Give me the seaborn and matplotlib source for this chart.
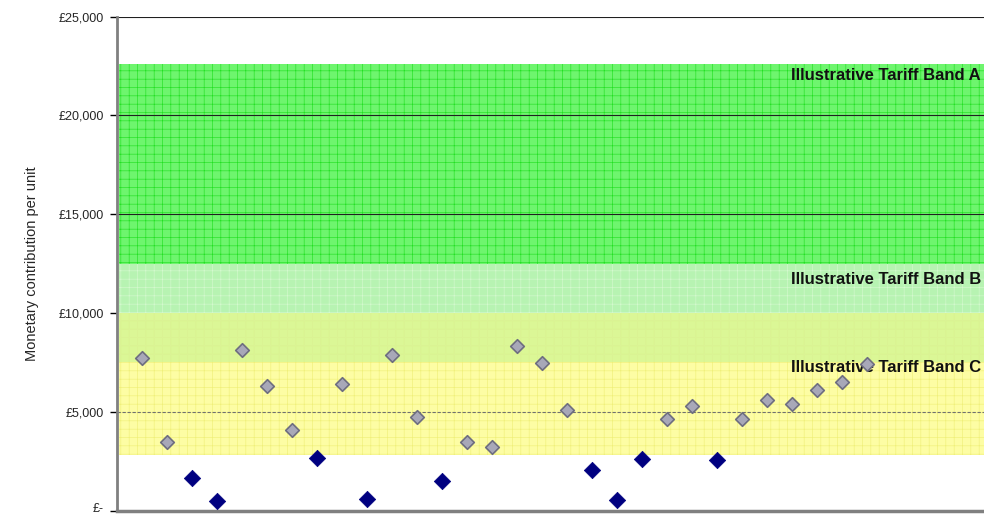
import matplotlib
matplotlib.use("Agg")
import matplotlib.pyplot as plt
import matplotlib.transforms as mtransforms
import seaborn as sns
import pandas as pd
from matplotlib.ticker import FuncFormatter

sns.set_style("white")
plt.rcParams["font.family"] = ["Liberation Sans", "DejaVu Sans"]
plt.rcParams["hatch.linewidth"] = 0.45

# Scheme contributions per unit, one point per site
site = list(range(1, 31))
contribution = [7700, 3490, 1650, 500, 8110, 6320, 4070, 2650, 6420, 570,
                7890, 4730, 1500, 3480, 3210, 8350, 7490, 5100, 2060, 530,
                2630, 4630, 5300, 2560, 4630, 5610, 5410, 6120, 6490, 7440]
group = ["Other", "Other", "Low", "Low", "Other", "Other", "Other", "Low", "Other", "Low",
         "Other", "Other", "Low", "Other", "Other", "Other", "Other", "Other", "Low", "Low",
         "Low", "Other", "Other", "Low", "Other", "Other", "Other", "Other", "Other", "Other"]

# Illustrative tariff bands (lower, upper) in £ per unit
band_names = ["Illustrative Tariff Band A", "Illustrative Tariff Band B", "Illustrative Tariff Band C"]
band_lower = [12500, 7500, 2800]
band_upper = [22600, 12500, 10000]
band_label_y = [22000, 11700, 7250]

y_ticks = [0, 5000, 10000, 15000, 20000, 25000]

df = pd.DataFrame({"site": site, "contribution": contribution, "group": group})

fig = plt.figure(figsize=(9.84, 5.15), dpi=100)
ax = fig.add_axes([0.1184, 0.0087, 0.8816, 0.9592])

# Band C (yellow)
ax.axhspan(band_lower[2], band_upper[2], xmin=0.003, xmax=1, facecolor="#fdfda4",
           edgecolor="#f0f07a", hatch="++", linewidth=0, zorder=0)
# Band B (light green); paler where it overlaps band C
overlap_top = min(band_upper[2], band_upper[1])
ax.axhspan(overlap_top, band_upper[1], xmin=0.003, xmax=1, facecolor="#8cec84",
           edgecolor="#e6fde0", hatch="++", linewidth=0, alpha=0.62, zorder=0.5)
ax.axhspan(band_lower[1], overlap_top, xmin=0.003, xmax=1, facecolor="#a6ee80",
           edgecolor="#e8fbc0", hatch="++", linewidth=0, alpha=0.38, zorder=0.5)
# Band A (green)
ax.axhspan(band_lower[0], band_upper[0], xmin=0.003, xmax=1, facecolor="#6ef56e",
           edgecolor="#24e024", hatch="++", linewidth=0, zorder=0.6)

# Horizontal gridlines
for v in [15000, 20000, 25000]:
    ax.axhline(v, color="#202020", lw=0.8, zorder=1)
ax.axhline(5000, color="#707070", lw=0.8, ls=(0, (3, 1.5)), zorder=1)

for name, yv in zip(band_names, band_label_y):
    ax.text(0.9965, yv, name, transform=ax.get_yaxis_transform(), ha="right", va="center",
            fontsize=12, fontweight="bold", color="#111111", zorder=3)

sns.scatterplot(data=df[df.group == "Other"], x="site", y="contribution", marker="D",
                s=48, color="#a8a8b8", edgecolor="#6e6e80", linewidth=1.2, ax=ax,
                zorder=4, legend=False)
sns.scatterplot(data=df[df.group == "Low"], x="site", y="contribution", marker="D",
                s=70, color="#000080", edgecolor="#000080", linewidth=0.5, ax=ax,
                zorder=4, legend=False)

ax.set_xlim(0, 34.68)
ax.set_ylim(0, 25000)
ax.set_yticks(y_ticks)
ax.yaxis.set_major_formatter(FuncFormatter(lambda v, p: "£-" if v == 0 else f"£{v:,.0f}"))
ax.set_xticks([])
ax.set_xlabel("")
ax.set_ylabel("Monetary contribution per unit", fontsize=10.5, labelpad=14)
ax.tick_params(axis="y", which="major", direction="out", length=5, width=1, color="black",
               labelsize=9, left=True, pad=4)

# keep the zero label clear of the bottom edge
fig.canvas.draw()
zero_label = ax.get_yticklabels()[0]
zero_label.set_transform(zero_label.get_transform() +
                         mtransforms.ScaledTranslation(0, 3 / 100, fig.dpi_scale_trans))

for s in ["top", "right"]:
    ax.spines[s].set_visible(False)
ax.spines["left"].set_color("#808080")
ax.spines["left"].set_linewidth(2)
ax.spines["bottom"].set_color("#808080")
ax.spines["bottom"].set_linewidth(2.5)

fig.savefig("out.png", dpi=100)
